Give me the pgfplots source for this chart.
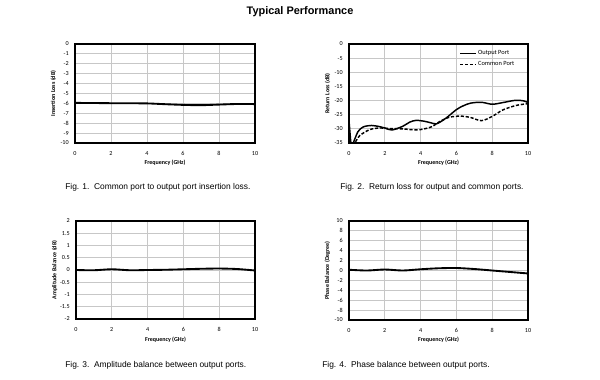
\documentclass[border=0pt]{standalone}
\usepackage{pgfplots}
\pgfplotsset{compat=1.18}
\usepackage{fontspec}
\setmainfont{Liberation Sans}
\newfontfamily\calfont{Carlito}
\pgfplotsset{
  myax/.style={
    scale only axis,
    width=135pt, height=74.25pt,
    xmin=0, xmax=10, xtick={0,2,...,10},
    grid=major,
    major grid style={line width=0.7pt, color=black!22},
    axis line style={line width=0.8pt},
    tick style={draw=none},
    /pgf/number format/assume math mode=true,
    ticklabel style={font=\calfont\fontsize{4.6}{5}\selectfont},
    xticklabel style={yshift=-3pt},
    yticklabel style={xshift=-1.2pt},
    xlabel={Frequency (GHz)},
    every axis x label/.style={at={(axis description cs:0.5,-0.2)}, anchor=center, font=\calfont\fontsize{4.5}{5}\selectfont\bfseries},
    every axis y label/.style={at={(axis description cs:-0.12,0.5)}, anchor=center, rotate=90, font=\calfont\fontsize{4.5}{5}\selectfont\bfseries},
    clip=true,
  },
  crv/.style={line width=1.4pt, black, smooth, no markers},
}
\begin{document}
\begin{tikzpicture}[x=1pt,y=1pt]
\path (0,0) rectangle (450,284.25);
\node[font=\fontsize{8.2}{9}\selectfont\bfseries] at (225,275.25) {Typical Performance};

% Plot 1
\begin{axis}[myax, at={(56.25pt,177pt)}, anchor=south west,
  ymin=-10, ymax=0, ytick={-10,-9,...,0}, ylabel={Insertion Loss (dB)}]
\addplot[crv] coordinates {(0,-5.95) (1,-5.96) (2,-5.98) (3,-5.99) (4,-6.0) (5,-6.08) (6,-6.15) (7,-6.18) (8,-6.12) (9,-6.06) (10,-6.07)};
\end{axis}

% Plot 2
\begin{axis}[myax, at={(261.75pt,177pt)}, anchor=south west, width=134.25pt,
  ymin=-35, ymax=0, ytick={-35,-30,...,0}, ylabel={Return Loss (dB)},
  legend style={at={(axis description cs:0.615,0.95)}, anchor=north west, draw=none, fill=none,
    font=\calfont\fontsize{4.8}{5}\selectfont, row sep=1.5pt, inner sep=0pt,
    nodes={inner sep=1pt, anchor=west}},
  legend image code/.code={\draw[#1] (0pt,0pt) -- (12pt,0pt);},
  legend cell align=left]
\addplot[crv, line width=1.1pt] coordinates {(0,-27) (0.05,-31) (0.12,-35.5) (0.22,-35.2) (0.5,-31) (0.8,-29.3) (1.25,-28.8) (1.7,-29.2) (2.0,-29.7) (2.4,-30.4) (3.0,-29.1) (3.4,-27.6) (3.75,-27.0) (4.2,-27.3) (4.6,-27.9) (4.9,-28.2) (5.4,-26.3) (6.0,-23.2) (6.4,-21.8) (6.8,-20.9) (7.4,-20.6) (8.0,-21.3) (8.6,-20.7) (9.3,-19.9) (9.75,-20.1) (10,-20.7)};
\addlegendentry{Output Port}
\addplot[crv, line width=1.1pt, dash pattern=on 2.4pt off 1.3pt] coordinates {(0.2,-36) (0.3,-35.3) (0.6,-32.4) (1.15,-30.3) (1.7,-29.7) (2.3,-29.9) (3.0,-30.0) (3.5,-30.3) (3.95,-30.3) (4.6,-29.3) (5.1,-27.3) (5.6,-25.9) (6.2,-25.5) (6.75,-25.9) (7.4,-27.1) (8.0,-25.6) (8.6,-23.3) (9.35,-21.7) (10,-21.1)};
\addlegendentry{Common Port}
\end{axis}

% Plot 3
\begin{axis}[myax, at={(57pt,45pt)}, anchor=south west, width=134.25pt, height=73.5pt,
  ymin=-2, ymax=2, ytick={-2,-1.5,...,2}, ylabel={Amplitude Balance  (dB)},
  every axis x label/.append style={at={(axis description cs:0.5,-0.21)}}]
\addplot[crv] coordinates {(0,0.0) (1,-0.01) (2,0.03) (3,-0.01) (4,0.0) (5,0.01) (6,0.03) (7,0.05) (8,0.06) (9,0.04) (10,-0.02)};
\end{axis}

% Plot 4
\begin{axis}[myax, at={(261.75pt,44.25pt)}, anchor=south west, width=134.25pt,
  ymin=-10, ymax=10, ytick={-10,-8,...,10}, ylabel={Phase Balance  (Degree)}]
\addplot[crv] coordinates {(0,0.15) (1,0.0) (2,0.2) (3,0.0) (4,0.25) (5,0.45) (6,0.5) (7,0.3) (8,0.0) (9,-0.3) (10,-0.6)};
\end{axis}

% Captions
\node[anchor=west, font=\fontsize{6.3}{7}\selectfont, inner sep=0pt] at (48.75,144) {Fig. 1.\ \ Common port to output port insertion loss.};
\node[anchor=west, font=\fontsize{6.3}{7}\selectfont, inner sep=0pt] at (255,144) {Fig. 2.\ \ Return loss for output and common ports.};
\node[anchor=west, font=\fontsize{6.3}{7}\selectfont, inner sep=0pt] at (48.75,10.5) {Fig. 3.\ \ Amplitude balance between output ports.};
\node[anchor=west, font=\fontsize{6.3}{7}\selectfont, inner sep=0pt] at (241.5,10.5) {Fig. 4.\ \ Phase balance between output ports.};
\end{tikzpicture}
\end{document}
